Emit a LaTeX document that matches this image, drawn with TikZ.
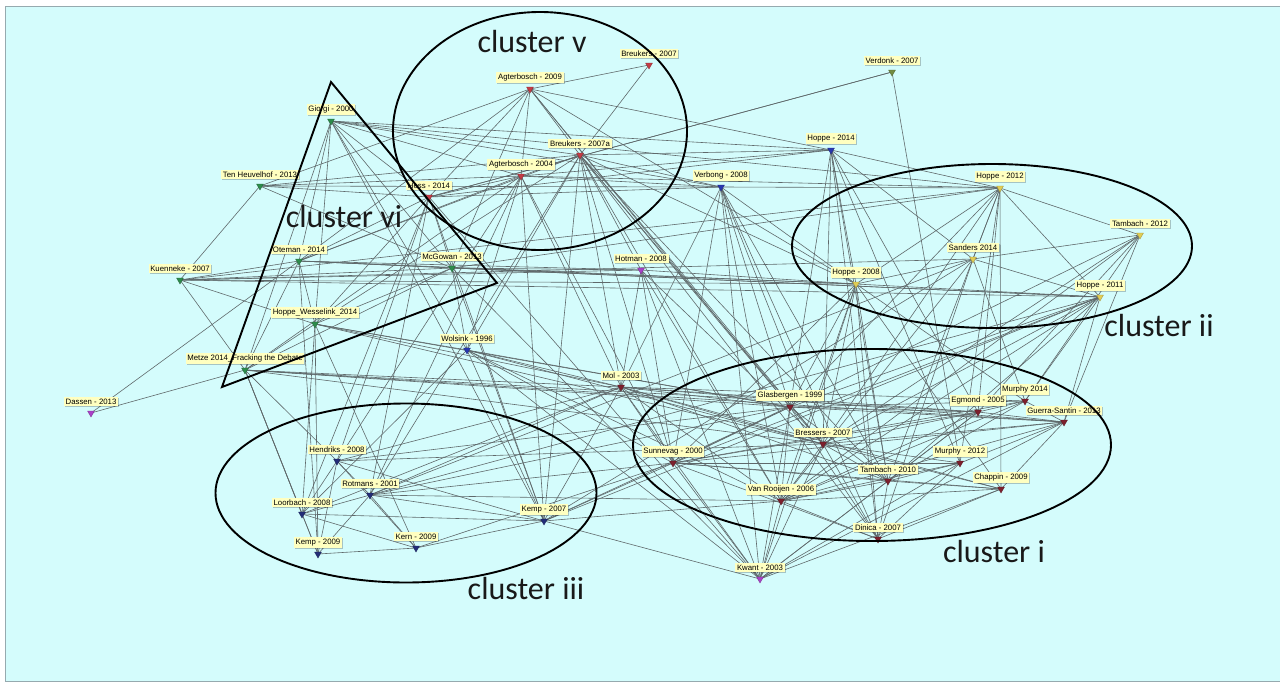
\documentclass[tikz,border=0pt]{standalone}
\usepackage{fontspec}
\setmainfont{Liberation Sans}
\newfontfamily\clusterfont{Carlito}
\usetikzlibrary{shapes.geometric,shadows}
\definecolor{bgc}{RGB}{212,252,252}
\definecolor{framec}{RGB}{150,170,175}
\definecolor{edgec}{RGB}{95,105,107}
\definecolor{lblc}{RGB}{255,255,192}
\definecolor{cvred}{RGB}{196,60,70}
\definecolor{cired}{RGB}{125,32,45}
\definecolor{cgreen}{RGB}{45,140,75}
\definecolor{cblue}{RGB}{40,55,175}
\definecolor{cnavy}{RGB}{35,45,120}
\definecolor{cyel}{RGB}{225,205,85}
\definecolor{cpurp}{RGB}{170,65,200}
\definecolor{colive}{RGB}{115,140,65}
\newcommand\pnode[3]{\node[mk=#2] (#1-m) at (#1) {};\node[lbl] (#1-l) at ([yshift=11.5pt]#1) {#3};}
\begin{document}
\begin{tikzpicture}[x=1pt,y=-1pt,
  edge/.style={draw=edgec,line width=0.6pt},
  mk/.style={regular polygon,regular polygon sides=3,shape border rotate=180,inner sep=0pt,minimum size=8pt,draw=#1!70!black,line width=0.3pt,fill=#1},
  lbl/.style={fill=lblc,inner sep=1.7pt,font=\fontsize{7.8}{9}\selectfont,drop shadow={shadow xshift=1pt,shadow yshift=-1pt,fill=black,opacity=0.22}},
  clus/.style={draw=black,line width=1.9pt},
  cshape/.style={clus,ellipse,inner sep=0pt},
  ctext/.style={font=\clusterfont\fontsize{32}{36}\selectfont,text=black!90,inner sep=0pt}]
\useasboundingbox (0,0) rectangle (1280,683);
\fill[white] (0,0) rectangle (1280,683);
\draw[fill=bgc,draw=framec,line width=1pt] (5,6) rectangle (1284,681);
% paper positions
\coordinate (br07) at (649,65);
\coordinate (ag09) at (530,89);
\coordinate (br07a) at (580,155);
\coordinate (ag04) at (521,176);
\coordinate (hess) at (429,197);
\coordinate (gio) at (331,121);
\coordinate (ten) at (260,186);
\coordinate (ote) at (299,261);
\coordinate (kue) at (180,280);
\coordinate (mcg) at (452,268);
\coordinate (hw) at (315,324);
\coordinate (metze) at (245,370);
\coordinate (dassen) at (91,413);
\coordinate (hot) at (641,270);
\coordinate (kwant) at (760,579);
\coordinate (wol) at (467,350);
\coordinate (verb) at (721,187);
\coordinate (h14) at (831,150);
\coordinate (hend) at (337,461);
\coordinate (rot) at (370,495);
\coordinate (loor) at (302,514);
\coordinate (kemp09) at (318,554);
\coordinate (kern) at (416,548);
\coordinate (kemp07) at (544,521);
\coordinate (verd) at (892,72);
\coordinate (h12) at (1000,188);
\coordinate (tam12) at (1140,235);
\coordinate (sand) at (973,259);
\coordinate (h08) at (856,284);
\coordinate (h11) at (1100,297);
\coordinate (mol) at (621,387);
\coordinate (glas) at (790,407);
\coordinate (bres) at (823,444);
\coordinate (egm) at (978,412);
\coordinate (mur14) at (1025,401);
\coordinate (guerra) at (1064,422);
\coordinate (sun) at (673,463);
\coordinate (mur12) at (960,463);
\coordinate (tam10) at (888,481);
\coordinate (chap) at (1001,489);
\coordinate (vanr) at (781,501);
\coordinate (dinica) at (878,539);
% connectors
\foreach \a/\b in {ag09/br07,br07/br07a,ag09/ag04,ag09/br07a,ag09/h14,ag09/ten,ag09/mcg,ag09/hess,ag09/glas,ag09/bres,ag09/h08,ag09/ote,
 br07a/ag04,br07a/h14,br07a/verb,br07a/mol,br07a/glas,br07a/bres,br07a/kemp07,br07a/hot,br07a/rot,br07a/h08,br07a/wol,br07a/vanr,br07a/sun,br07a/tam10,br07a/dinica,
 ag04/verb,ag04/h14,ag04/mol,ag04/kemp07,ag04/rot,ag04/hend,ag04/sun,ag04/wol,ag04/hess,ag04/h12,
 hess/verb,hess/verd,hess/mcg,hess/rot,hess/loor,hess/hend,hess/kwant,hess/h14,
 gio/hess,gio/ag04,gio/br07a,gio/h14,gio/mcg,gio/hw,gio/ote,gio/metze,gio/wol,gio/h12,gio/verb,gio/kemp07,
 ten/verb,ten/hess,ten/kue,ten/br07a,ten/mcg,ten/ag04,
 ote/mcg,ote/hw,ote/hess,ote/ag04,ote/h08,ote/br07a,ote/kue,ote/metze,ote/kemp09,ote/hot,ote/h11,
 kue/mcg,kue/hot,kue/h08,kue/hw,kue/metze,kue/h11,kue/sand,
 mcg/hw,mcg/metze,mcg/wol,mcg/hot,mcg/h08,mcg/h11,mcg/kemp07,mcg/kwant,
 hw/metze,hw/hess,hw/br07a,hw/wol,hw/mol,hw/kern,hw/loor,hw/kemp09,hw/glas,hw/bres,
 metze/ag04,metze/mol,metze/glas,metze/hend,metze/kemp09,metze/bres,metze/loor,metze/guerra,metze/egm,
 dassen/ote,dassen/metze,
 wol/mol,wol/kemp07,wol/loor,wol/glas,wol/bres,wol/sun,wol/vanr,wol/kwant,
 hot/mol,hot/sun,hot/kwant,hot/bres,hot/h08,hot/vanr,
 mol/hend,mol/rot,mol/loor,mol/kemp07,mol/kwant,mol/glas,mol/bres,mol/egm,mol/guerra,mol/sun,mol/tam10,mol/vanr,mol/chap,mol/mur14,
 verd/hess,verd/mur12,
 verb/h12,verb/glas,verb/bres,verb/sun,verb/vanr,verb/dinica,verb/mol,verb/kwant,verb/h08,verb/tam10,
 h14/h12,h14/h08,h14/bres,h14/mur12,h14/glas,h14/tam10,h14/sand,h14/egm,h14/dinica,
 h12/tam12,h12/sand,h12/h08,h12/h11,h12/egm,h12/mur12,h12/chap,h12/tam10,h12/bres,h12/glas,h12/kue,h12/mcg,
 sand/h08,sand/h11,sand/tam12,sand/kemp07,sand/dinica,sand/mur14,sand/vanr,sand/rot,
 h08/h11,h08/glas,h08/bres,h08/vanr,h08/dinica,h08/tam10,h08/mur14,h08/chap,h08/sun,h08/kwant,
 h11/glas,h11/sun,h11/vanr,h11/mur14,h11/guerra,h11/bres,h11/kemp07,h11/tam10,h11/rot,
 tam12/sun,tam12/vanr,tam12/guerra,tam12/mur14,tam12/egm,tam12/bres,
 glas/bres,glas/egm,glas/mur14,glas/guerra,glas/sun,glas/tam10,glas/vanr,glas/dinica,
 bres/egm,bres/mur12,bres/tam10,bres/chap,bres/vanr,bres/dinica,bres/guerra,
 egm/mur14,egm/guerra,egm/sun,egm/tam10,egm/vanr,
 mur14/guerra,mur14/sun,mur14/vanr,mur14/tam10,
 guerra/sun,guerra/vanr,guerra/mur12,guerra/chap,
 sun/mur12,sun/tam10,sun/dinica,sun/chap,
 mur12/tam10,mur12/vanr,mur12/dinica,
 tam10/chap,tam10/vanr,tam10/dinica,chap/vanr,chap/dinica,vanr/dinica,
 hend/rot,hend/loor,hend/kemp09,hend/kern,hend/kemp07,hend/glas,hend/bres,
 rot/loor,rot/kemp09,rot/kern,rot/kemp07,rot/glas,rot/vanr,rot/sun,
 loor/kemp09,loor/kern,loor/kemp07,loor/metze,
 kemp09/kern,kern/kemp07,kern/sun,kemp07/sun,kemp07/vanr,kemp07/glas,kemp07/kwant,kemp07/hess,
 kwant/glas,kwant/bres,kwant/vanr,kwant/sun,kwant/tam10,kwant/mur12,kwant/chap,kwant/egm,kwant/guerra}
 \draw[edge] (\a) -- (\b);
% markers and labels
\pnode{br07}{cvred}{Breukers - 2007}
\pnode{ag09}{cvred}{Agterbosch - 2009}
\pnode{br07a}{cvred}{Breukers - 2007a}
\pnode{ag04}{cvred}{Agterbosch - 2004}
\pnode{hess}{cvred}{Hess - 2014}
\pnode{gio}{cgreen}{Giorgi - 2000}
\pnode{ten}{cgreen}{Ten Heuvelhof - 2013}
\pnode{ote}{cgreen}{Oteman - 2014}
\pnode{kue}{cgreen}{Kuenneke - 2007}
\pnode{mcg}{cgreen}{McGowan - 2013}
\pnode{hw}{cgreen}{Hoppe\_Wesselink\_2014}
\pnode{metze}{cgreen}{Metze 2014\_Fracking the Debate}
\pnode{dassen}{cpurp}{Dassen - 2013}
\pnode{hot}{cpurp}{Hotman - 2008}
\pnode{kwant}{cpurp}{Kwant - 2003}
\pnode{wol}{cblue}{Wolsink - 1996}
\pnode{verb}{cblue}{Verbong - 2008}
\pnode{h14}{cblue}{Hoppe - 2014}
\pnode{hend}{cnavy}{Hendriks - 2008}
\pnode{rot}{cnavy}{Rotmans - 2001}
\pnode{loor}{cnavy}{Loorbach - 2008}
\pnode{kemp09}{cnavy}{Kemp - 2009}
\pnode{kern}{cnavy}{Kern - 2009}
\pnode{kemp07}{cnavy}{Kemp - 2007}
\pnode{verd}{colive}{Verdonk - 2007}
\pnode{h12}{cyel}{Hoppe - 2012}
\pnode{tam12}{cyel}{Tambach - 2012}
\pnode{sand}{cyel}{Sanders 2014}
\pnode{h08}{cyel}{Hoppe - 2008}
\pnode{h11}{cyel}{Hoppe - 2011}
\pnode{mol}{cired}{Mol - 2003}
\pnode{glas}{cired}{Glasbergen - 1999}
\pnode{bres}{cired}{Bressers - 2007}
\pnode{egm}{cired}{Egmond - 2005}
\pnode{mur14}{cired}{Murphy 2014}
\pnode{guerra}{cired}{Guerra-Santin - 2013}
\pnode{sun}{cired}{Sunnevag - 2000}
\pnode{mur12}{cired}{Murphy - 2012}
\pnode{tam10}{cired}{Tambach - 2010}
\pnode{chap}{cired}{Chappin - 2009}
\pnode{vanr}{cired}{Van Rooijen - 2006}
\pnode{dinica}{cired}{Dinica - 2007}
% cluster outlines
\node[cshape,minimum width=294pt,minimum height=238pt] (cv) at (540,131) {};
\node[cshape,minimum width=400pt,minimum height=164pt] (cii) at (992,246) {};
\node[cshape,minimum width=478pt,minimum height=192pt] (ci) at (872,445) {};
\node[cshape,minimum width=381pt,minimum height=179pt] (ciii) at (406,493) {};
\coordinate (tA) at (331,82);
\coordinate (tB) at (497,283);
\coordinate (tC) at (222,387);
\draw[clus,line join=miter] (tA) -- (tB) -- (tC) -- cycle;
% cluster names
\node[ctext] (lv) at (532,42) {cluster v};
\node[ctext] (lvi) at (344,217) {cluster vi};
\node[ctext] (lii) at (1159,326) {cluster ii};
\node[ctext] (li) at (994,551) {cluster i};
\node[ctext] (liii) at (526,588) {cluster iii};
\end{tikzpicture}
\end{document}
